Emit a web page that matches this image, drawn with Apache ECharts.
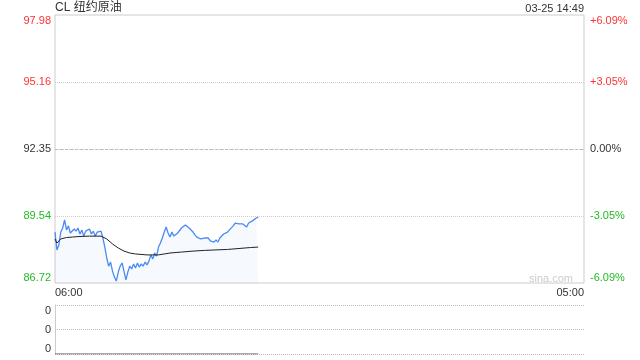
<!DOCTYPE html>
<html><head><meta charset="utf-8">
<script src="https://cdn.jsdelivr.net/npm/echarts@6/dist/echarts.min.js"></script>
<style>html,body{margin:0;padding:0;background:#fff}#c{width:640px;height:360px}</style>
</head><body><div id="c"></div>
<script>
const chartTitle = 'CL 纽约原油';
const timeStamp = '03-25 14:49';
const watermark = 'sina.com';
const priceStepMinutes = 5;
const prices = [
  88.86, 88.11, 88.32, 88.86, 89.03, 89.37, 88.95, 89.12, 88.82, 88.74,
  88.99, 88.90, 89.03, 88.78, 88.95, 88.69, 88.90, 88.82, 88.99, 88.78,
  88.90, 88.69, 88.86, 88.78, 88.90, 88.61, 88.23, 87.77, 87.43, 87.60,
  87.22, 86.97, 86.80, 87.18, 87.43, 87.56, 87.22, 86.85, 87.18, 87.43,
  87.31, 87.52, 87.35, 87.56, 87.39, 87.52, 87.43, 87.60, 87.48, 87.64,
  87.90, 87.73, 87.98, 87.85, 88.23, 88.40, 88.61, 88.86, 89.07, 88.82,
  88.65, 88.86, 88.69, 88.61, 88.82, 88.90, 89.03, 89.07, 89.16, 89.20,
  89.03, 88.95, 88.86, 88.74, 88.65, 88.69, 88.57, 88.49, 88.61, 88.53,
  88.61, 88.49, 88.57, 88.44, 88.53, 88.44, 88.61, 88.69, 88.78, 88.74,
  88.86, 88.95, 88.90, 89.12, 89.24, 89.16, 89.20, 89.28, 89.20, 89.12,
  89.07, 89.24, 89.28, 89.33, 89.37, 89.45, 89.49
];
const avgMinutes = [0, 5, 15, 30, 45, 60, 90, 120, 135, 150, 165, 180, 195, 210, 240, 270, 285, 300, 330, 360, 390, 420, 450, 480, 510, 530];
const avgPrices  = [88.57, 88.40, 88.57, 88.63, 88.65, 88.67, 88.69, 88.69, 88.57, 88.36, 88.19, 88.06, 87.98, 87.94, 87.90, 87.90, 87.94, 87.98, 88.02, 88.06, 88.09, 88.11, 88.13, 88.17, 88.21, 88.23];
const volMinutes = [0, 30, 60, 90, 120, 150, 180, 210, 240, 270, 300, 330, 360, 390, 420, 450, 480, 510, 530];
const volValues  = [0, 0, 0, 0, 0, 0, 0, 0, 0, 0, 0, 0, 0, 0, 0, 0, 0, 0, 0];
const prevClose = 92.35;
const priceTicks = [86.72, 89.535, 92.35, 95.165, 97.98];
const priceTickLabels = ['86.72', '89.54', '92.35', '95.16', '97.98'];
const pctTickLabels = ['-6.09%', '-3.05%', '0.00%', '+3.05%', '+6.09%'];
const xTickLabels = ['06:00', '05:00'];
const volTickLabels = ['0', '0', '0'];

const FONT = "Arial, 'Liberation Sans', 'Noto Sans CJK SC', sans-serif";
const RED = '#f33', GREEN = '#2b2', DARK = '#333';
function tickIndex(v) {
  let best = 0, d = Infinity;
  priceTicks.forEach((t, i) => { const dd = Math.abs(t - v); if (dd < d) { d = dd; best = i; } });
  return best;
}
function tickColor(v) {
  const i = tickIndex(v);
  return i < 2 ? GREEN : (i > 2 ? RED : DARK);
}

const chart = echarts.init(document.getElementById('c'), null, { renderer: 'canvas' });
chart.setOption({
  animation: false,
  textStyle: { fontFamily: FONT },
  title: [
    { text: chartTitle, left: 55, top: 2, padding: 0, textStyle: { fontSize: 12, fontWeight: 'normal', color: DARK, fontFamily: FONT } },
    { text: timeStamp, right: 56, top: 3, padding: 0, textStyle: { fontSize: 11, fontWeight: 'normal', color: DARK, fontFamily: FONT } }
  ],
  graphic: [
    { type: 'text', right: 67, top: 273, silent: true, style: { text: watermark, fill: '#ccc', fontSize: 11, fontFamily: FONT } }
  ],
  grid: [
    { left: 55, right: 56, top: 15, height: 268, show: true, borderColor: '#ccc', borderWidth: 1 },
    { left: 55, right: 56, top: 305, height: 49 }
  ],
  xAxis: [
    { type: 'value', gridIndex: 0, min: 0, max: 1380, interval: 1380,
      axisLine: { show: false }, axisTick: { show: false }, splitLine: { show: false },
      axisLabel: { fontSize: 11, color: DARK, margin: 4, alignMinLabel: 'left', alignMaxLabel: 'right',
        formatter: (v, i) => xTickLabels[v === 0 ? 0 : 1] } },
    { type: 'value', gridIndex: 1, min: 0, max: 1380, interval: 1380,
      axisLine: { show: false }, axisTick: { show: false }, splitLine: { show: false }, axisLabel: { show: false } }
  ],
  yAxis: [
    { type: 'value', gridIndex: 0, position: 'left', min: priceTicks[0], max: priceTicks[4], scale: true,
      axisLine: { show: false },
      axisTick: { show: false, customValues: priceTicks },
      splitLine: { show: true, showMinLine: false, showMaxLine: false, lineStyle: { color: '#ccc', type: [1, 1], width: 1 } },
      axisLabel: { customValues: priceTicks, fontSize: 11, margin: 4,
        verticalAlignMinLabel: 'bottom', verticalAlignMaxLabel: 'top',
        color: (v) => tickColor(v), formatter: (v) => priceTickLabels[tickIndex(v)] } },
    { type: 'value', gridIndex: 0, position: 'right', min: priceTicks[0], max: priceTicks[4], scale: true,
      axisLine: { show: false },
      axisTick: { show: false, customValues: priceTicks },
      splitLine: { show: false },
      axisLabel: { customValues: priceTicks, fontSize: 11, margin: 6,
        verticalAlignMinLabel: 'bottom', verticalAlignMaxLabel: 'top',
        color: (v) => tickColor(v), formatter: (v) => pctTickLabels[tickIndex(v)] } },
    { type: 'value', gridIndex: 1, min: 0, max: 2, interval: 1,
      axisLine: { show: true, lineStyle: { color: '#ccc' } },
      axisTick: { show: false },
      splitLine: { show: true, lineStyle: { color: '#bbb', type: [1, 1], width: 1 } },
      axisLabel: { fontSize: 11, margin: 4, color: DARK,
        verticalAlignMinLabel: 'bottom', verticalAlignMaxLabel: 'top',
        formatter: (v, i) => volTickLabels[Math.round(v)] } }
  ],
  series: [
    { type: 'line', name: 'price', xAxisIndex: 0, yAxisIndex: 0, showSymbol: false, symbol: 'none',
      data: prices.map((v, i) => [i * priceStepMinutes, v]),
      lineStyle: { color: '#4a8af4', width: 1.3 },
      areaStyle: { color: 'rgba(74,138,244,0.07)', origin: 'start' },
      markLine: { silent: true, symbol: 'none', label: { show: false },
        lineStyle: { color: '#bbb', type: [3, 2], width: 1 },
        data: [{ yAxis: prevClose }] },
      z: 3 },
    { type: 'line', name: 'avg', xAxisIndex: 0, yAxisIndex: 0, showSymbol: false, symbol: 'none',
      data: avgMinutes.map((m, i) => [m, avgPrices[i]]),
      lineStyle: { color: '#222', width: 1 }, z: 4 },
    { type: 'line', name: 'volume', xAxisIndex: 1, yAxisIndex: 2, showSymbol: false, symbol: 'none',
      data: volMinutes.map((m, i) => [m, volValues[i]]),
      lineStyle: { color: '#555', width: 1 }, z: 4 }
  ]
});
</script>
</body></html>
